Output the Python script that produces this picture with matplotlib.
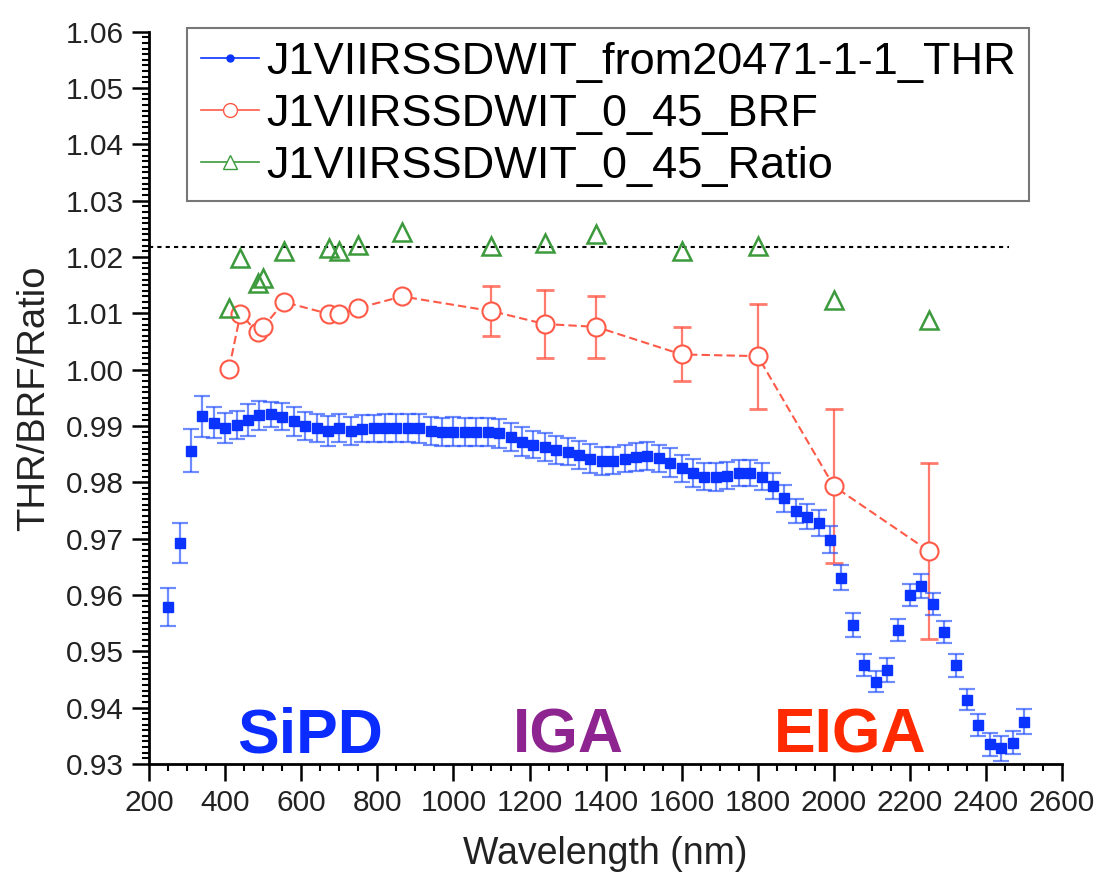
import matplotlib.pyplot as plt
from matplotlib.lines import Line2D
from matplotlib.ticker import MultipleLocator, FormatStrFormatter

plt.rcParams['font.family'] = ['Liberation Sans', 'DejaVu Sans']

# THR ratio, 30 nm grid with 1-sigma errors
wl_thr = [250, 280, 310, 340, 370, 400, 430, 460, 490, 520,
          550, 580, 610, 640, 670, 700, 730, 760, 790, 820,
          850, 880, 910, 940, 970, 1000, 1030, 1060, 1090, 1120,
          1150, 1180, 1210, 1240, 1270, 1300, 1330, 1360, 1390, 1420,
          1450, 1480, 1510, 1540, 1570, 1600, 1630, 1660, 1690, 1720,
          1750, 1780, 1810, 1840, 1870, 1900, 1930, 1960, 1990, 2020,
          2050, 2080, 2110, 2140, 2170, 2200, 2230, 2260, 2290, 2320,
          2350, 2380, 2410, 2440, 2470, 2500]
thr = [0.9579, 0.9692, 0.9856, 0.9917, 0.9906, 0.9896, 0.9902, 0.9911, 0.9919, 0.9921,
       0.9916, 0.9908, 0.9900, 0.9896, 0.9891, 0.9896, 0.9891, 0.9895, 0.9896, 0.9896,
       0.9896, 0.9896, 0.9896, 0.9891, 0.9890, 0.9890, 0.9890, 0.9890, 0.9890, 0.9887,
       0.9881, 0.9872, 0.9867, 0.9862, 0.9858, 0.9854, 0.9849, 0.9842, 0.9838, 0.9838,
       0.9842, 0.9845, 0.9847, 0.9843, 0.9835, 0.9825, 0.9817, 0.9810, 0.9810, 0.9812,
       0.9816, 0.9816, 0.9810, 0.9793, 0.9772, 0.9749, 0.9739, 0.9727, 0.9698, 0.9631,
       0.9547, 0.9476, 0.9446, 0.9467, 0.9538, 0.9600, 0.9616, 0.9584, 0.9534, 0.9475,
       0.9414, 0.9369, 0.9335, 0.9328, 0.9338, 0.9375]
thr_err = [0.0034, 0.0036, 0.0038, 0.0036, 0.0027, 0.0027, 0.0025, 0.0028, 0.0026, 0.0022,
           0.0024, 0.0026, 0.0025, 0.0025, 0.0026, 0.0025, 0.0025, 0.0024, 0.0024, 0.0025,
           0.0025, 0.0025, 0.0026, 0.0025, 0.0025, 0.0026, 0.0025, 0.0025, 0.0025, 0.0026,
           0.0025, 0.0026, 0.0024, 0.0025, 0.0025, 0.0024, 0.0025, 0.0026, 0.0025, 0.0024,
           0.0024, 0.0025, 0.0025, 0.0024, 0.0026, 0.0024, 0.0025, 0.0024, 0.0025, 0.0024,
           0.0023, 0.0023, 0.0024, 0.0023, 0.0024, 0.0022, 0.0022, 0.0023, 0.0024, 0.0022,
           0.0021, 0.0020, 0.0019, 0.0021, 0.0020, 0.0020, 0.0021, 0.0020, 0.0020, 0.0021,
           0.0019, 0.0020, 0.0020, 0.0022, 0.0021, 0.0022]

# BRF and BRF/THR ratio at the band wavelengths
wl_brf = [410, 440, 485, 500, 555, 672, 700, 748, 865, 1100, 1240, 1375, 1600, 1800, 2000, 2250]
brf = [1.0002, 1.0099, 1.0066, 1.0076, 1.0120, 1.0099, 1.0099, 1.0109, 1.0130,
       1.0104, 1.0081, 1.0076, 1.0027, 1.0024, 0.9793, 0.9678]
brf_err = [0, 0, 0, 0, 0, 0, 0, 0, 0,
           0.0045, 0.0060, 0.0055, 0.0048, 0.0093, 0.0137, 0.0157]
ratio = [1.0110, 1.0198, 1.0153, 1.0162, 1.0211, 1.0216, 1.0210, 1.0221, 1.0245,
         1.0219, 1.0224, 1.0241, 1.0210, 1.0219, 1.0123, 1.0089]

ref_level = 1.0218
ref_span = [200, 2460]

labels = ['J1VIIRSSDWIT_from20471-1-1_THR', 'J1VIIRSSDWIT_0_45_BRF', 'J1VIIRSSDWIT_0_45_Ratio']
detectors = ['SiPD', 'IGA', 'EIGA']
detector_x = [622, 1303, 2044]
detector_colors = ['#0a2cff', '#8e248f', '#ff2a00']

blue = '#0a33ff'
red = '#ff5a48'
green = '#3c9a3c'

fig = plt.figure(figsize=(10.96, 8.75), dpi=100)
ax = fig.add_axes([0.1361, 0.1269, 0.8329, 0.8369])

# THR points with error bars
ax.errorbar(wl_thr, thr, yerr=thr_err, fmt='s', ms=6.5, color=blue,
            ecolor=(0.13, 0.3, 1.0, 0.65), elinewidth=1.6, capsize=5.5, capthick=1.6,
            zorder=3)

# BRF: dashed line, error bars where available, open circles
ax.plot(wl_brf, brf, color=red, lw=1.5, dashes=(4, 2), zorder=2)
ew = [w for w, e in zip(wl_brf, brf_err) if e > 0]
ev = [v for v, e in zip(brf, brf_err) if e > 0]
ee = [e for e in brf_err if e > 0]
ax.errorbar(ew, ev, yerr=ee, fmt='none', ecolor=red, elinewidth=1.6,
            capsize=6.5, capthick=2, alpha=0.8, zorder=2)
ax.plot(wl_brf, brf, 'o', ms=13, mfc='white', mec=red, mew=1.5, zorder=4)

# Ratio triangles
ax.plot(wl_brf, ratio, '^', ms=13, mfc='none', mec=green, mew=1.8, zorder=4)

ax.plot(ref_span, [ref_level, ref_level], color='black', lw=1.5,
        dashes=(2, 2), zorder=1)

for name, x, c in zip(detectors, detector_x, detector_colors):
    ax.text(x, 0.9321, name, color=c, fontsize=45, fontweight='bold',
            ha='center', va='baseline')

ax.set_xlim(200, 2600)
ax.set_ylim(0.93, 1.06)
ax.set_xticks(range(200, 2601, 200))
ax.xaxis.set_minor_locator(MultipleLocator(50))
ax.yaxis.set_major_locator(MultipleLocator(0.01))
ax.yaxis.set_minor_locator(MultipleLocator(0.001))
ax.yaxis.set_major_formatter(FormatStrFormatter('%.2f'))

for s in ['top', 'right']:
    ax.spines[s].set_visible(False)
for s in ['left', 'bottom']:
    ax.spines[s].set_linewidth(2)

ax.tick_params(which='major', direction='out', length=12, width=1.8,
               labelsize=21.5, labelcolor='#222222', pad=6)
ax.tick_params(which='minor', direction='out', length=5, width=1.5)

ax.set_xlabel('Wavelength (nm)', fontsize=27, labelpad=14, color='#222222')
ax.set_ylabel('THR/BRF/Ratio', fontsize=27.5, labelpad=10, color='#222222')

handles = [
    Line2D([], [], color=blue, lw=1.2, marker='o', ms=5),
    Line2D([], [], color=red, lw=1.2, marker='o', ms=10, mfc='white', mec=red),
    Line2D([], [], color=green, lw=1.2, marker='^', ms=10, mfc='white', mec=green),
]
leg = ax.legend(handles, labels, loc='upper left',
                bbox_to_anchor=(187 / 1096, 1 - 28 / 875),
                bbox_transform=fig.transFigure, borderaxespad=0,
                fontsize=32.5, frameon=True, fancybox=False, handlelength=1.3,
                handletextpad=0.15, labelspacing=0.25, borderpad=0.3)
leg.get_frame().set_edgecolor('#555555')
leg.get_frame().set_linewidth(1.5)

fig.savefig('out.png', dpi=100)
